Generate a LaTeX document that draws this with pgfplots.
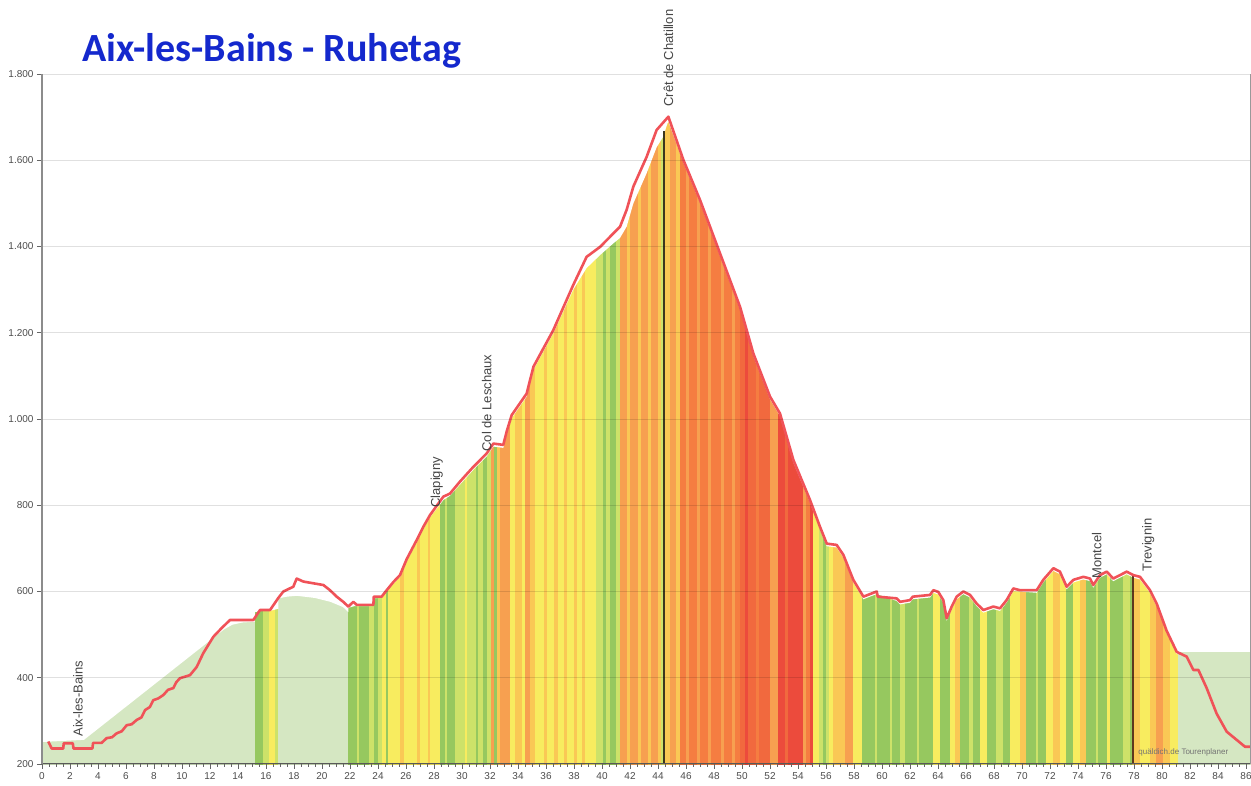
\documentclass[border=0pt]{standalone}
\usepackage{pgfplots}
\pgfplotsset{compat=1.18}
\usepackage{fontspec}
\setmainfont{Liberation Sans}
\newfontfamily\carlito{Carlito}
\definecolor{titleblue}{RGB}{20,40,205}
\definecolor{profred}{RGB}{240,82,88}
\definecolor{labgray}{RGB}{70,70,70}
\begin{document}
\begin{tikzpicture}
\useasboundingbox (0,0) rectangle (1251pt,786pt);
\begin{axis}[
  at={(42pt,22pt)}, anchor=south west,
  scale only axis, width=1208pt, height=690pt,
  xmin=0, xmax=86.286, ymin=200, ymax=1800,
  axis lines*=left, axis on top, clip=false,
  xtick={0,2,...,86}, minor x tick num=3,
  ytick={200,400,...,1800},
  ymajorgrids, major grid style={black, opacity=0.12, line width=0.8pt},
  tick align=outside, major tick length=5pt, minor tick length=3pt,
  tick style={black!60, line width=0.8pt},
  x axis line style={black!65, line width=1pt},
  y axis line style={black!45, line width=1.6pt},
  tick label style={font=\fontsize{10}{10}\selectfont, text=black!70},
  /pgf/number format/1000 sep={.},
  /pgf/number format/assume math mode=true,
  colormap={qd}{rgb255=(213,231,194) rgb255=(150,200,95) rgb255=(205,226,105) rgb255=(248,236,95) rgb255=(250,200,85) rgb255=(247,160,80) rgb255=(245,125,65) rgb255=(236,75,60) rgb255=(241,105,62)},
  colormap access=direct,
]
% gradient strips (class per interval starting at x)
\addplot[surf, shader=flat corner, mesh/ordering=y varies, mesh/rows=2, point meta=explicit] coordinates {
(0,200)[0] (0,1800)[0]
(15.21,200)[1] (15.21,1800)[1]
(15.81,200)[2] (15.81,1800)[2]
(16.24,200)[3] (16.24,1800)[3]
(16.64,200)[2] (16.64,1800)[2]
(16.88,200)[0] (16.88,1800)[0]
(21.88,200)[1] (21.88,1800)[1]
(22.5,200)[2] (22.5,1800)[2]
(22.65,200)[1] (22.65,1800)[1]
(23.4,200)[2] (23.4,1800)[2]
(23.7,200)[1] (23.7,1800)[1]
(24.0,200)[2] (24.0,1800)[2]
(24.3,200)[3] (24.3,1800)[3]
(24.6,200)[1] (24.6,1800)[1]
(24.75,200)[3] (24.75,1800)[3]
(25.6,200)[4] (25.6,1800)[4]
(25.85,200)[3] (25.85,1800)[3]
(26.8,200)[4] (26.8,1800)[4]
(27.0,200)[3] (27.0,1800)[3]
(27.6,200)[4] (27.6,1800)[4]
(27.75,200)[3] (27.75,1800)[3]
(28.43,200)[1] (28.43,1800)[1]
(28.8,200)[2] (28.8,1800)[2]
(28.95,200)[1] (28.95,1800)[1]
(29.5,200)[2] (29.5,1800)[2]
(30.2,200)[3] (30.2,1800)[3]
(30.35,200)[2] (30.35,1800)[2]
(31.0,200)[1] (31.0,1800)[1]
(31.15,200)[2] (31.15,1800)[2]
(31.52,200)[1] (31.52,1800)[1]
(31.8,200)[2] (31.8,1800)[2]
(32.12,200)[5] (32.12,1800)[5]
(32.3,200)[1] (32.3,1800)[1]
(32.5,200)[4] (32.5,1800)[4]
(32.71,200)[5] (32.71,1800)[5]
(33.43,200)[3] (33.43,1800)[3]
(33.79,200)[4] (33.79,1800)[4]
(34.3,200)[3] (34.3,1800)[3]
(34.5,200)[5] (34.5,1800)[5]
(34.86,200)[4] (34.86,1800)[4]
(35.2,200)[3] (35.2,1800)[3]
(35.9,200)[4] (35.9,1800)[4]
(36.1,200)[3] (36.1,1800)[3]
(36.6,200)[4] (36.6,1800)[4]
(36.9,200)[3] (36.9,1800)[3]
(37.3,200)[4] (37.3,1800)[4]
(37.5,200)[3] (37.5,1800)[3]
(38.0,200)[4] (38.0,1800)[4]
(38.2,200)[3] (38.2,1800)[3]
(38.6,200)[4] (38.6,1800)[4]
(38.8,200)[3] (38.8,1800)[3]
(39.6,200)[2] (39.6,1800)[2]
(40.1,200)[1] (40.1,1800)[1]
(40.3,200)[2] (40.3,1800)[2]
(40.6,200)[1] (40.6,1800)[1]
(41.0,200)[2] (41.0,1800)[2]
(41.29,200)[5] (41.29,1800)[5]
(41.8,200)[4] (41.8,1800)[4]
(42.0,200)[5] (42.0,1800)[5]
(42.6,200)[4] (42.6,1800)[4]
(42.8,200)[5] (42.8,1800)[5]
(43.3,200)[4] (43.3,1800)[4]
(43.5,200)[5] (43.5,1800)[5]
(44.0,200)[4] (44.0,1800)[4]
(44.2,200)[2] (44.2,1800)[2]
(44.45,200)[4] (44.45,1800)[4]
(44.9,200)[5] (44.9,1800)[5]
(45.3,200)[4] (45.3,1800)[4]
(45.57,200)[6] (45.57,1800)[6]
(46.0,200)[5] (46.0,1800)[5]
(46.2,200)[6] (46.2,1800)[6]
(46.8,200)[5] (46.8,1800)[5]
(47.0,200)[6] (47.0,1800)[6]
(47.6,200)[5] (47.6,1800)[5]
(47.8,200)[6] (47.8,1800)[6]
(48.5,200)[5] (48.5,1800)[5]
(48.7,200)[6] (48.7,1800)[6]
(49.3,200)[5] (49.3,1800)[5]
(49.5,200)[6] (49.5,1800)[6]
(49.86,200)[8] (49.86,1800)[8]
(50.2,200)[7] (50.2,1800)[7]
(50.45,200)[8] (50.45,1800)[8]
(51.0,200)[6] (51.0,1800)[6]
(51.2,200)[8] (51.2,1800)[8]
(52.0,200)[5] (52.0,1800)[5]
(52.6,200)[7] (52.6,1800)[7]
(53.1,200)[8] (53.1,1800)[8]
(53.3,200)[7] (53.3,1800)[7]
(54.38,200)[5] (54.38,1800)[5]
(54.6,200)[6] (54.6,1800)[6]
(54.86,200)[7] (54.86,1800)[7]
(55.1,200)[3] (55.1,1800)[3]
(55.5,200)[2] (55.5,1800)[2]
(55.81,200)[1] (55.81,1800)[1]
(56.0,200)[2] (56.0,1800)[2]
(56.2,200)[3] (56.2,1800)[3]
(56.52,200)[4] (56.52,1800)[4]
(57.36,200)[5] (57.36,1800)[5]
(57.95,200)[3] (57.95,1800)[3]
(58.55,200)[1] (58.55,1800)[1]
(59.5,200)[2] (59.5,1800)[2]
(59.65,200)[1] (59.65,1800)[1]
(60.6,200)[2] (60.6,1800)[2]
(60.72,200)[1] (60.72,1800)[1]
(61.29,200)[2] (61.29,1800)[2]
(61.64,200)[1] (61.64,1800)[1]
(62.5,200)[2] (62.5,1800)[2]
(62.65,200)[1] (62.65,1800)[1]
(63.67,200)[3] (63.67,1800)[3]
(64.14,200)[1] (64.14,1800)[1]
(64.86,200)[3] (64.86,1800)[3]
(65.21,200)[4] (65.21,1800)[4]
(65.57,200)[1] (65.57,1800)[1]
(66.2,200)[2] (66.2,1800)[2]
(66.5,200)[1] (66.5,1800)[1]
(67.0,200)[3] (67.0,1800)[3]
(67.48,200)[1] (67.48,1800)[1]
(68.19,200)[2] (68.19,1800)[2]
(68.67,200)[1] (68.67,1800)[1]
(69.14,200)[3] (69.14,1800)[3]
(69.86,200)[4] (69.86,1800)[4]
(70.33,200)[1] (70.33,1800)[1]
(71.0,200)[2] (71.0,1800)[2]
(71.15,200)[1] (71.15,1800)[1]
(71.76,200)[3] (71.76,1800)[3]
(72.24,200)[4] (72.24,1800)[4]
(72.71,200)[3] (72.71,1800)[3]
(73.19,200)[1] (73.19,1800)[1]
(73.67,200)[3] (73.67,1800)[3]
(74.14,200)[4] (74.14,1800)[4]
(74.62,200)[1] (74.62,1800)[1]
(75.3,200)[2] (75.3,1800)[2]
(75.45,200)[1] (75.45,1800)[1]
(76.05,200)[3] (76.05,1800)[3]
(76.29,200)[1] (76.29,1800)[1]
(77.24,200)[2] (77.24,1800)[2]
(77.71,200)[1] (77.71,1800)[1]
(77.9,200)[4] (77.9,1800)[4]
(78.43,200)[3] (78.43,1800)[3]
(79.14,200)[4] (79.14,1800)[4]
(79.62,200)[5] (79.62,1800)[5]
(80.1,200)[4] (80.1,1800)[4]
(80.57,200)[3] (80.57,1800)[3]
(81.17,200)[0] (81.17,1800)[0]
(86.286,200)[0] (86.286,1800)[0]
};
% white above the filled profile
\addplot[fill=white, draw=none] coordinates {
(0,1800) (0,251) (3.0,256) (13.0,512) (13.6,523) (14.3,528) (15.21,530) (15.21,552) (15.6,555) (16.3,555) (16.88,560) (16.88,584) (17.5,588) (18.2,590) (19.5,585) (20.6,576) (21.5,564) (21.88,552) (21.88,562) (22.3,566) (23.6,566) (23.7,584) (24.3,586) (24.6,600) (25.1,618) (25.6,635) (26.05,670) (26.76,714) (27.24,745) (27.71,772) (28.67,812) (29.14,822) (29.86,848) (30.81,882) (31.76,913) (32.24,936) (32.95,933) (33.19,964) (33.55,1002) (34.62,1052) (35.1,1114) (36.52,1199) (37.95,1300) (38.9,1350) (39.86,1380) (40.8,1407) (41.29,1420) (41.76,1446) (42.24,1500) (43.19,1570) (43.9,1630) (44.38,1655) (44.62,1680) (44.74,1690) (45.81,1595) (47.0,1502) (48.43,1378) (49.86,1254) (50.81,1146) (52.0,1046) (52.71,1007) (53.67,899) (54.86,806) (55.57,744) (56.05,705) (56.76,702) (57.24,679) (57.95,621) (58.67,582) (59.62,594) (61.05,578) (61.29,570) (62.0,574) (62.2,582) (63.43,586) (63.67,597) (64.02,593) (64.38,574) (64.62,532) (64.98,559) (65.33,582) (65.81,594) (66.29,586) (66.76,566) (67.24,551) (67.95,559) (68.43,555) (68.9,574) (69.38,601) (71.05,597) (71.52,621) (72.24,648) (72.71,640) (73.19,605) (73.67,621) (74.38,628) (74.86,624) (75.09,609) (75.57,632) (76.05,640) (76.52,624) (77.48,640) (77.95,632) (78.43,628) (79.14,597) (79.62,566) (80.33,505) (81.05,455) (81.17,455) (81.17,460) (86.286,460) (86.286,1800)
};
% waypoint lines
\addplot[draw={rgb,255:red,60;green,55;blue,30}, line width=2pt] coordinates {(44.4,200) (44.4,1668)};
\addplot[draw={rgb,255:red,95;green,55;blue,30}, line width=2pt] coordinates {(77.9,200) (77.9,636)};
% elevation profile
\addplot[draw=profred, line width=2.6pt, line join=round] coordinates {
(0.45,252) (0.69,236) (1.52,236) (1.55,248) (2.2,248) (2.25,236) (3.6,236) (3.65,249) (4.26,249) (4.62,260) (5.0,262) (5.33,271) (5.7,276) (6.05,290) (6.4,292) (6.76,302) (7.1,308) (7.36,325) (7.7,332) (7.95,348) (8.3,352) (8.67,360) (9.0,372) (9.38,376) (9.6,390) (9.86,399) (10.57,406) (11.05,425) (11.52,457) (12.24,495) (12.83,515) (13.43,534) (15.1,534) (15.57,557) (16.29,557) (16.88,585) (17.24,600) (17.95,611) (18.19,630) (18.67,623) (20.1,615) (20.57,603) (21.05,588) (21.52,576) (21.88,565) (22.24,576) (22.48,569) (23.67,569) (23.7,588) (24.26,588) (24.62,603) (25.1,622) (25.57,638) (26.05,675) (26.76,719) (27.24,750) (27.71,777) (28.67,820) (29.14,827) (29.86,855) (30.81,889) (31.76,920) (32.24,943) (32.95,940) (33.19,971) (33.55,1009) (34.62,1059) (35.1,1121) (36.52,1206) (37.95,1311) (38.9,1376) (39.86,1399) (41.29,1446) (41.76,1485) (42.24,1539) (43.19,1608) (43.9,1670) (44.74,1701) (45.81,1601) (47.0,1508) (48.43,1384) (49.86,1260) (50.81,1152) (52.0,1052) (52.71,1013) (53.67,905) (54.86,812) (55.57,750) (56.05,711) (56.76,708) (57.24,685) (57.95,627) (58.67,588) (59.62,600) (59.7,588) (61.05,584) (61.29,576) (62.0,580) (62.2,588) (63.43,592) (63.67,603) (64.02,599) (64.38,580) (64.62,538) (64.98,565) (65.33,588) (65.81,600) (66.29,592) (66.76,572) (67.24,557) (67.95,565) (68.43,561) (68.9,580) (69.38,607) (69.86,603) (71.05,603) (71.52,627) (72.24,654) (72.71,646) (73.19,611) (73.67,627) (74.38,634) (74.86,630) (75.09,615) (75.57,638) (76.05,646) (76.52,630) (77.48,646) (77.95,638) (78.43,634) (79.14,603) (79.62,572) (80.33,509) (81.05,460) (81.76,449) (82.24,418) (82.6,418) (83.19,376) (83.9,317) (84.62,275) (85.33,256) (85.93,240) (86.286,240)
};
% right axis line
\draw[black!40, line width=1pt] (axis cs:86.286,200) -- (axis cs:86.286,1800);
% waypoint labels
\begin{scope}[every node/.style={rotate=90, anchor=west, inner sep=0pt, text=labgray, font=\fontsize{13}{13}\selectfont}]
\node at (axis cs:2.57,263) {Aix-les-Bains};
\node at (axis cs:28.19,794) {Clapigny};
\node at (axis cs:31.76,924) {Col de Leschaux};
\node at (axis cs:44.74,1724) {Crêt de Chatillon};
\node at (axis cs:75.33,630) {Montcel};
\node at (axis cs:79.02,646) {Trevignin};
\end{scope}
\node[anchor=west, inner sep=0pt, text=black!55, font=\fontsize{8}{8}\selectfont] at (axis cs:78.3,226) {quäldich.de Tourenplaner};
\end{axis}
\node[anchor=base west, inner sep=0pt, text=titleblue, font=\carlito\bfseries\fontsize{40}{40}\selectfont] at (82pt,724pt) {Aix-les-Bains - Ruhetag};
\end{tikzpicture}
\end{document}
